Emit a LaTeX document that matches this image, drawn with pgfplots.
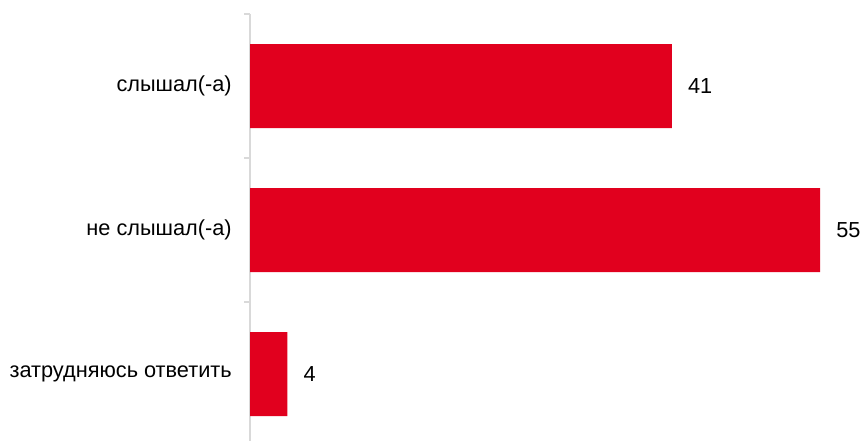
\documentclass[border=0pt]{standalone}
\usepackage{fontspec}
\setmainfont{Liberation Sans}
\usepackage{pgfplots}
\pgfplotsset{compat=1.18}
\definecolor{barred}{RGB}{225,0,30}
\definecolor{axgray}{RGB}{217,217,217}
\begin{document}
\fontsize{16.3pt}{19pt}\selectfont
\begin{tikzpicture}
\begin{axis}[
  at={(187.5pt,0pt)}, anchor=south west,
  scale only axis,
  width=459pt, height=320.25pt,
  xbar, bar width=63pt,
  xmin=0, xmax=59.05,
  ymin=-0.5, ymax=2.465,
  y dir=reverse,
  axis x line=none,
  axis y line=left,
  axis line style={-, draw=axgray, line width=1.1pt},
  ytick={0,1,2},
  yticklabels={слышал(-а), не слышал(-а), затрудняюсь ответить},
  major tick length=0pt,
  minor ytick={-0.5,0.5,1.5},
  minor tick length=4.5pt,
  tick align=outside,
  ytick pos=left,
  every tick/.style={draw=axgray, line width=1.1pt},
  minor tick style={draw=axgray, line width=1.1pt},
  yticklabel style={inner sep=0pt, xshift=-13.5pt, font=\fontsize{16.3pt}{19pt}\selectfont, text=black},
  clip=false,
  nodes near coords,
  point meta=explicit symbolic,
  every node near coord/.append style={anchor=west, inner sep=0pt, xshift=12pt, font=\fontsize{16.3pt}{19pt}\selectfont, text=black},
]
\addplot[fill=barred, draw=none] coordinates {(40.7,0) [41] (55,1) [55] (3.6,2) [4]};
\end{axis}
\pgfresetboundingbox
\path (0,0) rectangle (646.5pt,330.75pt);
\end{tikzpicture}
\end{document}
